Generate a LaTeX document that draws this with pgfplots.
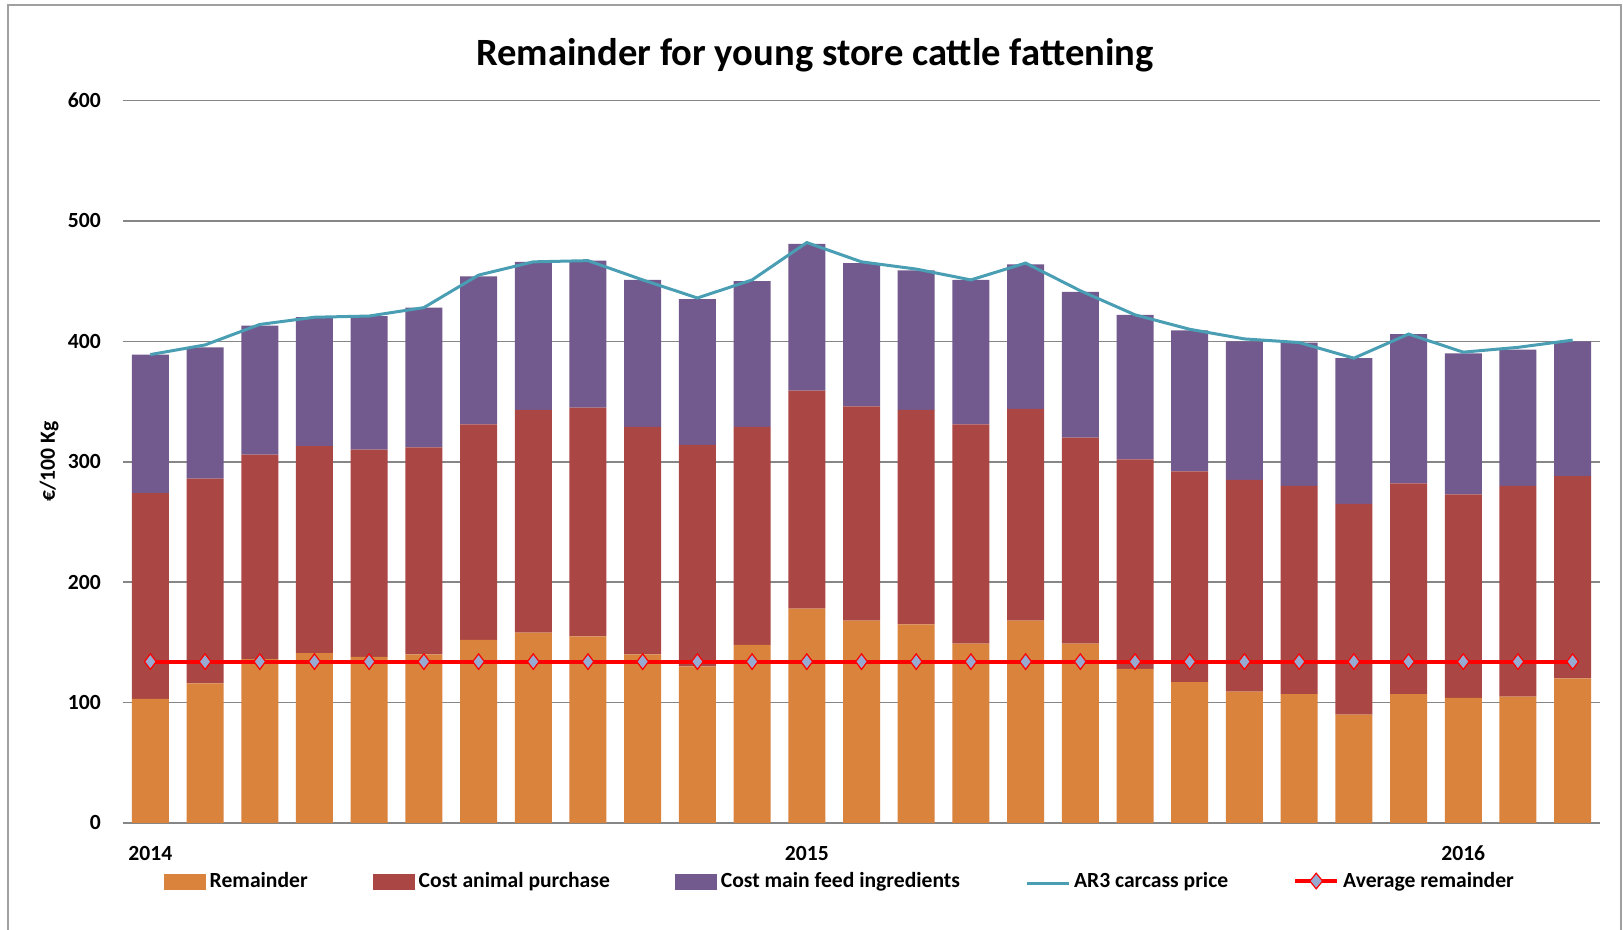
\documentclass[border=0pt]{standalone}
\usepackage{pgfplots}
\usepackage{pgfplotstable}
\pgfplotsset{compat=1.18}
\usepackage{fontspec}
\setmainfont{Carlito}
\definecolor{cRem}{RGB}{217,131,61}
\definecolor{cAni}{RGB}{170,71,68}
\definecolor{cFeed}{RGB}{114,89,142}
\definecolor{cAR}{RGB}{74,158,180}
\definecolor{cAvgFill}{RGB}{150,170,210}
\definecolor{cGrid}{RGB}{134,134,134}
\definecolor{cFrame}{RGB}{160,160,160}

\pgfplotstableread{
x rem ani feed ar avg
0 103 171 115 389 134
1 116 170 109 397 134
2 136 170 107 414 134
3 141 172 107 420 134
4 138 172 111 421 134
5 140 172 116 428 134
6 152 179 123 455 134
7 158 185 123 466 134
8 155 190 122 467 134
9 140 189 122 451 134
10 130 184 121 436 134
11 148 181 121 451 134
12 178 181 122 482 134
13 168 178 119 466 134
14 165 178 116 460 134
15 149 182 120 451 134
16 168 176 120 465 134
17 149 171 121 442 134
18 128 174 120 422 134
19 117 175 117 410 134
20 109 176 115 402 134
21 107 173 119 399 134
22 90 175 121 386 134
23 107 175 124 406 134
24 104 169 117 391 134
25 105 175 113 395 134
26 120 168 112 401 134
}\data

\begin{document}
\begin{tikzpicture}
\path[use as bounding box] (0,0) rectangle (811.5pt,465pt);
\draw[cFrame, line width=0.8pt] (4pt,0) -- (4pt,462.5pt) -- (810.5pt,462.5pt) -- (810.5pt,0);
\begin{axis}[
  at={(61.5pt,53.5pt)}, anchor=south west,
  width=738.5pt, height=361.25pt, scale only axis,
  ybar stacked, bar width=18.5pt,
  xmin=-0.5, xmax=26.5, ymin=0, ymax=600,
  ytick={0,100,...,600},
  xtick={0,12,24}, xticklabels={2014,2015,2016},
  ymajorgrids, grid style={cGrid, line width=0.8pt},
  axis line style={draw=none}, tick style={draw=none},
  /pgf/number format/assume math mode=true,
  yticklabel style={font=\fontsize{10.8}{12}\selectfont\bfseries, xshift=-7.6pt},
  xticklabel style={font=\fontsize{10.8}{12}\selectfont\bfseries, yshift=-8pt},
  ylabel={€/100 Kg},
  ylabel style={font=\fontsize{10.8}{12}\selectfont\bfseries, at={(axis description cs:-0.050,0.5)}, anchor=center},
]
\addplot[fill=cRem, draw=none] table[x=x,y=rem]{\data};
\addplot[fill=cAni, draw=none] table[x=x,y=ani]{\data};
\addplot[fill=cFeed, draw=none] table[x=x,y=feed]{\data};
\end{axis}
\begin{axis}[
  at={(61.5pt,53.5pt)}, anchor=south west,
  width=738.5pt, height=361.25pt, scale only axis,
  xmin=-0.5, xmax=26.5, ymin=0, ymax=600,
  hide axis,
  legend columns=5,
  legend style={draw=none, fill=none, at={(axis description cs:0.486,-0.0803)}, anchor=center,
    font=\fontsize{10.8}{12}\selectfont\bfseries,
    /tikz/every even column/.append style={column sep=30.5pt}},
  legend image code/.code={\draw[#1] (0pt,-1pt) -- (21pt,-1pt);},
]
\addlegendimage{area legend, fill=cRem, draw=none, legend image code/.code={\fill[cRem] (0pt,-4.5pt) rectangle (21pt,3.5pt);}}
\addlegendentry{Remainder}
\addlegendimage{area legend, fill=cAni, draw=none, legend image code/.code={\fill[cAni] (0pt,-4.5pt) rectangle (21pt,3.5pt);}}
\addlegendentry{Cost animal purchase}
\addlegendimage{area legend, fill=cFeed, draw=none, legend image code/.code={\fill[cFeed] (0pt,-4.5pt) rectangle (21pt,3.5pt);}}
\addlegendentry{Cost main feed ingredients}
\addplot[cAR, line width=1.5pt, mark=none] table[x=x,y=ar]{\data};
\addlegendentry{AR3 carcass price}
\addplot[red, line width=2pt, mark=diamond*, mark size=3.9pt, mark options={fill=cAvgFill, draw=red, line width=0.6pt},
  legend image code/.code={\draw[red, line width=2pt] (0pt,0pt) -- (21pt,0pt); \draw[red, fill=cAvgFill, line width=0.6pt] (10.5pt,3.9pt) -- (13.7pt,0pt) -- (10.5pt,-3.9pt) -- (7.3pt,0pt) -- cycle;}]
  table[x=x,y=avg]{\data};
\addlegendentry{Average remainder}
\end{axis}
\node[font=\fontsize{19.3}{23}\selectfont\bfseries] at (407.5pt,437.4pt) {Remainder for young store cattle fattening};
\end{tikzpicture}
\end{document}
